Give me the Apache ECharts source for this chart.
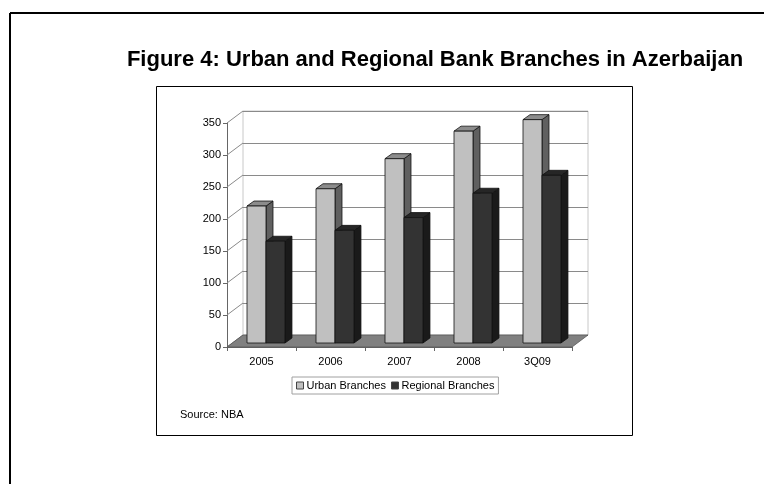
<!DOCTYPE html>
<html>
<head>
<meta charset="utf-8">
<script src="https://cdn.jsdelivr.net/npm/echarts@6/dist/echarts.min.js"></script>
<style>
  html, body { margin: 0; padding: 0; background: #fff; }
  #chart { width: 764px; height: 484px; }
</style>
</head>
<body>
<div id="chart"></div>
<script>
const categories = ['2005', '2006', '2007', '2008', '3Q09'];
const urban = [214, 241, 288, 331, 349];
const regional = [159, 176, 196, 234, 262];
const yTicks = [0, 50, 100, 150, 200, 250, 300, 350];

const DX = 16, DY = -12;      // wall depth
const BDX = 7, BDY = -5;      // bar depth
const font = 'Arial, "Liberation Sans", sans-serif';

const chart = echarts.init(document.getElementById('chart'));

// 3D bar drawn from the axis scales
function bar3d(idx, front, top, side) {
  return function (params, api) {
    const c = api.coord([api.value(0), api.value(1)]);
    const base = api.coord([api.value(0), 0]);
    const band = api.size([1, 0])[0];
    const w = band * 0.275;
    const x0 = c[0] - band * 0.21 + idx * w;
    const x1 = x0 + w;
    const yt = c[1] - 4;
    const yb = base[1] - 4;
    const stroke = '#111';
    return {
      type: 'group',
      children: [
        { type: 'polygon', shape: { points: [[x1, yt], [x1 + BDX, yt + BDY], [x1 + BDX, yb + BDY], [x1, yb]] },
          style: { fill: side, stroke: stroke, lineWidth: 0.8 } },
        { type: 'polygon', shape: { points: [[x0, yt], [x1, yt], [x1 + BDX, yt + BDY], [x0 + BDX, yt + BDY]] },
          style: { fill: top, stroke: stroke, lineWidth: 0.8 } },
        { type: 'rect', shape: { x: x0, y: yt, width: w, height: yb - yt },
          style: { fill: front, stroke: stroke, lineWidth: 0.8 } }
      ]
    };
  };
}

const option = {
  animation: false,
  backgroundColor: '#fff',
  graphic: [
    { type: 'line', shape: { x1: 10, y1: 13, x2: 764, y2: 13 }, style: { stroke: '#000', lineWidth: 2 } },
    { type: 'line', shape: { x1: 10, y1: 13, x2: 10, y2: 484 }, style: { stroke: '#000', lineWidth: 2 } },
    { type: 'rect', shape: { x: 156.5, y: 86.5, width: 476, height: 349 }, style: { fill: 'none', stroke: '#000', lineWidth: 1 }, z: -1 },
    { type: 'text', x: 435, y: 60, style: { text: 'Figure 4: Urban and Regional Bank Branches in Azerbaijan',
        font: 'bold 22px ' + font, fill: '#000', textAlign: 'center', textVerticalAlign: 'middle' } },
    { type: 'text', x: 180, y: 415, style: { text: 'Source: NBA', font: '11px ' + font, fill: '#000', textVerticalAlign: 'middle' } }
  ],
  legend: {
    data: ['Urban Branches', 'Regional Branches'],
    left: 292, top: 377,
    icon: 'rect', itemWidth: 7, itemHeight: 7, itemGap: 5,
    padding: [3, 4],
    borderColor: '#a0a0a0', borderWidth: 1,
    itemStyle: { borderColor: '#444', borderWidth: 1 },
    textStyle: { fontSize: 11, fontFamily: font, color: '#000', padding: [0, 0, 0, -2] }
  },
  grid: [
    { left: 227, right: 192, top: 123, bottom: 137 },
    { left: 243, right: 176, top: 111, bottom: 149, show: true, borderColor: '#c8c8c8', borderWidth: 1 }
  ],
  xAxis: [
    { type: 'category', gridIndex: 0, data: categories, boundaryGap: true,
      axisLine: { lineStyle: { color: '#666' } },
      axisTick: { show: true, length: 4, lineStyle: { color: '#666' } },
      axisLabel: { margin: 9, fontSize: 11, fontFamily: font, color: '#000' } },
    { type: 'category', gridIndex: 1, data: categories, show: false }
  ],
  yAxis: [
    { type: 'value', gridIndex: 0, min: 0, max: 350, interval: 50,
      axisLine: { show: true, lineStyle: { color: '#666' } },
      axisTick: { show: true, length: 4, lineStyle: { color: '#666' } },
      splitLine: { show: false },
      axisLabel: { margin: 6, fontSize: 11, fontFamily: font, color: '#000' } },
    { type: 'value', gridIndex: 1, min: 0, max: 350, interval: 50,
      axisLine: { show: false }, axisTick: { show: false }, axisLabel: { show: false },
      splitLine: { lineStyle: { color: '#8a8a8a' } } }
  ],
  series: [
    { // side wall diagonals
      type: 'custom', xAxisIndex: 0, yAxisIndex: 0, silent: true, z: 1,
      data: yTicks.map(v => [0, v]),
      renderItem: function (params, api) {
        const p = api.coord([0, api.value(1)]);
        const band = api.size([1, 0])[0];
        const xl = p[0] - band / 2;
        return { type: 'line', shape: { x1: xl, y1: p[1], x2: xl + DX, y2: p[1] + DY },
          style: { stroke: '#8a8a8a', lineWidth: 1 } };
      }
    },
    { // floor
      type: 'custom', xAxisIndex: 0, yAxisIndex: 0, silent: true, z: 2,
      data: [[0, 0]],
      renderItem: function (params, api) {
        const band = api.size([1, 0])[0];
        const a = api.coord([0, 0]);
        const b = api.coord([categories.length - 1, 0]);
        const xl = a[0] - band / 2, xr = b[0] + band / 2, y = a[1];
        return { type: 'polygon', shape: { points: [[xl, y], [xr, y], [xr + DX, y + DY], [xl + DX, y + DY]] },
          style: { fill: '#808080', stroke: '#555', lineWidth: 0.8 } };
      }
    },
    { name: 'Urban Branches', type: 'custom', xAxisIndex: 0, yAxisIndex: 0, z: 3,
      itemStyle: { color: '#c0c0c0' },
      data: urban.map((v, i) => [i, v]),
      renderItem: bar3d(0, '#c0c0c0', '#8c8c8c', '#606060') },
    { name: 'Regional Branches', type: 'custom', xAxisIndex: 0, yAxisIndex: 0, z: 4,
      itemStyle: { color: '#333333' },
      data: regional.map((v, i) => [i, v]),
      renderItem: bar3d(1, '#333333', '#262626', '#1a1a1a') }
  ]
};

chart.setOption(option);
</script>
</body>
</html>
